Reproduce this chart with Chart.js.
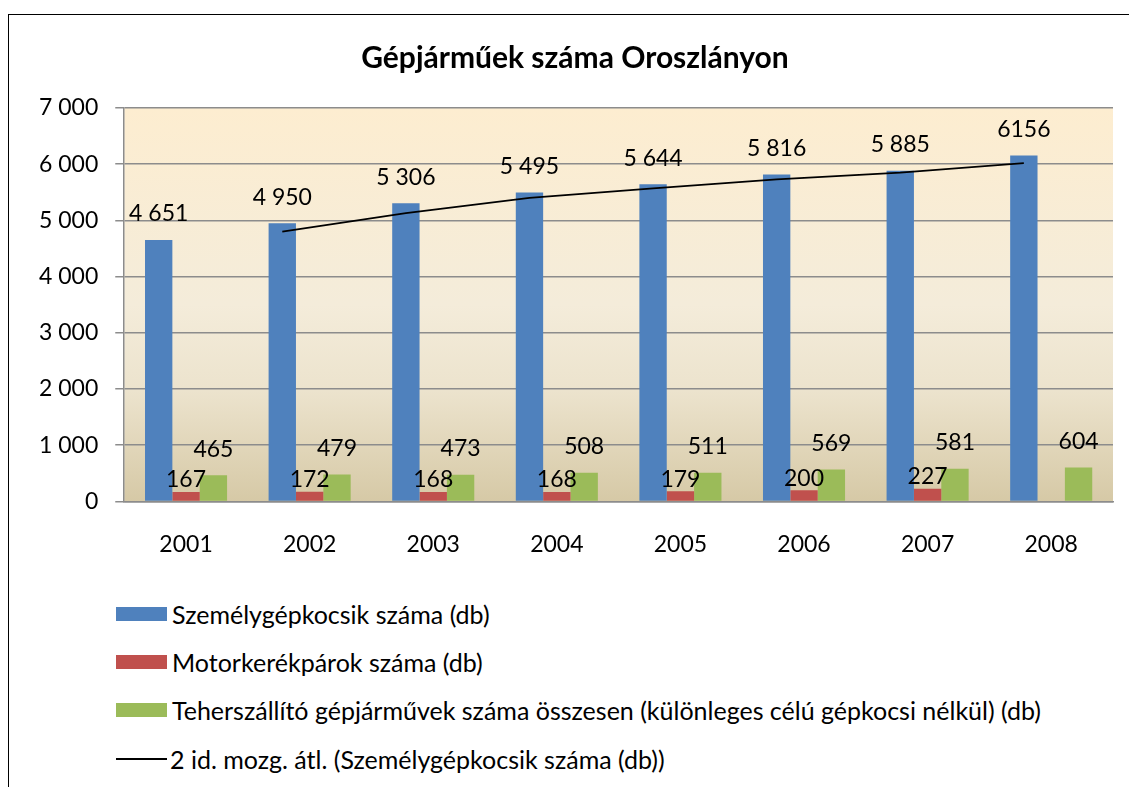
<!DOCTYPE html>
<html><head><meta charset="utf-8">
<script src="https://cdn.jsdelivr.net/npm/chart.js@4"></script>
<style>
html,body{margin:0;padding:0;background:#fff;width:1129px;height:787px;overflow:hidden;font-family:Lato,sans-serif;}
#frame{position:absolute;left:8px;top:14px;width:1300px;height:900px;border:1.5px solid #000;box-sizing:border-box}
#wrap{position:absolute;left:0;top:0;width:1129px;height:589px}
.li{position:absolute;left:116px;height:30px;display:flex;align-items:center;font-size:25px;color:#000;white-space:nowrap;font-family:Lato,sans-serif}
.sw{width:51px;height:14px;margin-right:5px}
.ln{width:51px;height:2px;background:#000;margin-right:3px}
</style></head>
<body>
<div id="frame"></div>
<div id="wrap"><canvas id="c" width="1129" height="589"></canvas></div>
<div id="legend"></div>
<script>
const years = ['2001','2002','2003','2004','2005','2006','2007','2008'];
const cars = [4651,4950,5306,5495,5644,5816,5885,6156];
const motos = [167,172,168,168,179,200,227,null];
const trucks = [465,479,473,508,511,569,581,604];
const carLabels = ['4 651','4 950','5 306','5 495','5 644','5 816','5 885','6156'];
const motoLabels = ['167','172','168','168','179','200','227',''];
const truckLabels = ['465','479','473','508','511','569','581','604'];
const movingAvg = [null,4800.5,5128,5400.5,5569.5,5730,5850.5,6020.5];
const yTickLabels = ['0','1 000','2 000','3 000','4 000','5 000','6 000','7 000'];
const seriesNames = ['Személygépkocsik száma (db)','Motorkerékpárok száma (db)','Teherszállító gépjárművek száma összesen (különleges célú gépkocsi nélkül) (db)','2 id. mozg. átl. (Személygépkocsik száma (db))'];
const colors = ['#4F81BD','#C0504D','#9BBB59','#000000'];
const titleText = 'Gépjárműek száma Oroszlányon';

const FONT = 'Lato';

const bgPlugin = {
  id: 'bg',
  beforeDraw(chart) {
    const {ctx, chartArea: a} = chart;
    const g = ctx.createLinearGradient(0, a.top, 0, a.bottom);
    g.addColorStop(0, '#FDEDD0');
    g.addColorStop(0.5, '#F4ECDA');
    g.addColorStop(0.72, '#ECE3CD');
    g.addColorStop(1, '#D6C9A6');
    ctx.save();
    ctx.fillStyle = g;
    ctx.fillRect(a.left, a.top, a.right - a.left, a.bottom - a.top);
    ctx.restore();
  }
};
// the moving-average trendline sits on the first series' bars (as in Excel)
const alignPlugin = {
  id: 'align',
  afterDatasetsUpdate(chart) {
    const bars = chart.getDatasetMeta(0).data;
    const line = chart.getDatasetMeta(3);
    line.data.forEach((pt, i) => { if (bars[i]) pt.x = bars[i].x; });
    if (line.dataset) line.dataset._path = undefined;
  }
};
const labelSets = [carLabels, motoLabels, truckLabels];
const labelOffsets = [26, 12, 26];
const labelPlugin = {
  id: 'vlabels',
  afterDatasetsDraw(chart) {
    const ctx = chart.ctx;
    ctx.save();
    ctx.font = '23px ' + FONT;
    ctx.fillStyle = '#000';
    ctx.textAlign = 'center';
    ctx.textBaseline = 'middle';
    labelSets.forEach((labels, d) => {
      const meta = chart.getDatasetMeta(d);
      meta.data.forEach((el, i) => {
        if (!labels[i]) return;
        ctx.fillText(labels[i], el.x, el.y - labelOffsets[d]);
      });
    });
    ctx.restore();
  }
};

const grid = '#8C8C8C';
new Chart(document.getElementById('c'), {
  type: 'bar',
  data: {
    labels: years,
    datasets: [
      {label: seriesNames[0], data: cars, backgroundColor: colors[0], order: 1},
      {label: seriesNames[1], data: motos, backgroundColor: colors[1], order: 1},
      {label: seriesNames[2], data: trucks, backgroundColor: colors[2], order: 1},
      {label: seriesNames[3], type: 'line', data: movingAvg,
       borderColor: colors[3], borderWidth: 1.8, pointRadius: 0, fill: false, tension: 0, order: 0}
    ]
  },
  options: {
    responsive: false,
    animation: false,
    datasets: {bar: {categoryPercentage: 0.664, barPercentage: 1, borderWidth: 0}},
    layout: {padding: {left: 37, right: 16, top: 0, bottom: 2}},
    plugins: {
      legend: {display: false},
      tooltip: {enabled: false},
      title: {display: true, text: titleText, color: '#000', font: {family: FONT, size: 30, weight: 'bold'}, padding: {top: 40, bottom: 32}}
    },
    scales: {
      x: {
        grid: {display: false, drawTicks: false},
        border: {display: true, color: grid, width: 1.5},
        ticks: {color: '#000', font: {family: FONT, size: 23}, padding: 29}
      },
      y: {
        min: 0, max: 7000,
        afterFit: (s) => { s.width -= 15; },
        grid: {color: grid, lineWidth: 1.5, tickLength: 9},
        border: {display: true, color: grid, width: 1.5},
        ticks: {stepSize: 1000, color: '#000', font: {family: FONT, size: 23}, padding: 17,
          callback: (v, i) => yTickLabels[i]}
      }
    }
  },
  plugins: [bgPlugin, alignPlugin, labelPlugin]
});

const legendCenters = [614, 662, 710, 759];
const leg = document.getElementById('legend');
seriesNames.forEach((name, i) => {
  const row = document.createElement('div');
  row.className = 'li';
  row.style.top = (legendCenters[i] - 15) + 'px';
  const sw = document.createElement('span');
  if (i < 3) { sw.className = 'sw'; sw.style.background = colors[i]; }
  else { sw.className = 'ln'; }
  row.appendChild(sw);
  const t = document.createElement('span');
  t.textContent = name;
  row.appendChild(t);
  leg.appendChild(row);
});
</script>
</body></html>
